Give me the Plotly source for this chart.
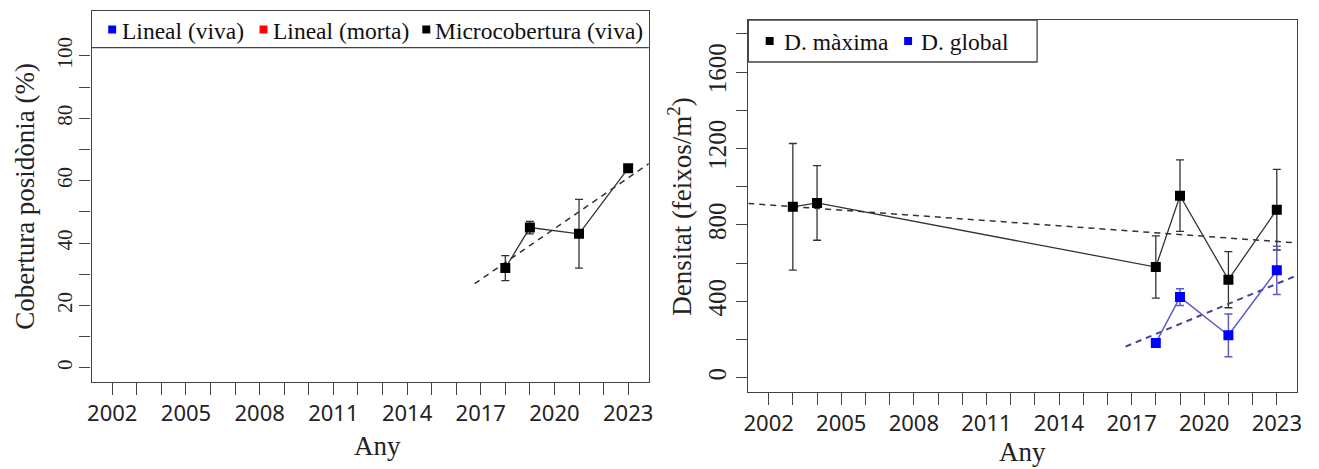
import numpy as np
import plotly.graph_objects as go

# ---- data -------------------------------------------------------------
years_cov = [2018, 2019, 2021, 2023]
cov_micro = [32, 45, 43, 64]
cov_micro_err = [4, 2, 11, 0]

years_dmax = [2003, 2004, 2018, 2019, 2021, 2023]
dens_max = [895, 915, 580, 953, 514, 880]
dens_max_err = [331, 195, 163, 187, 147, 211]

years_dglob = [2018, 2019, 2021, 2023]
dens_glob = [183, 423, 223, 563]
dens_glob_err = [0, 44, 112, 126]

cov_legend = ["Lineal (viva)", "Lineal (morta)", "Microcobertura (viva)"]
dens_legend = ["D. màxima", "D. global"]

year_ticks = list(range(2002, 2024))
labelled_years = [2002, 2005, 2008, 2011, 2014, 2017, 2020, 2023]

cov_ticks = list(range(0, 101, 10))
cov_labelled = [0, 20, 40, 60, 80, 100]
dens_ticks = list(range(0, 1801, 200))
dens_labelled = [0, 400, 800, 1200, 1600]

# ---- styling ----------------------------------------------------------
W, H = 1319, 469
AX = "#444444"
SERIF = "Liberation Serif"
SANS = "Noto Sans"
X_RANGE = [2001.16, 2023.84]
COV_RANGE = [-4.4, 114.4]
DENS_RANGE = [-72, 1872]
LOCAL_TREND_START = 2016.75


def px_x(p):
    return p / W


def px_y(p):
    return 1 - p / H


def fit_line(xs, ys, x0, x1):
    slope, icpt = np.polyfit(xs, ys, 1)
    return [x0, x1], [icpt + slope * x0, icpt + slope * x1]


fig = go.Figure()

# left panel: cover
tx, ty = fit_line(years_cov, cov_micro, LOCAL_TREND_START, X_RANGE[1])
fig.add_trace(go.Scatter(x=tx, y=ty, mode="lines", xaxis="x", yaxis="y",
                         line=dict(color="#333333", width=1.5, dash="6px,5px"),
                         showlegend=False, hoverinfo="skip"))
fig.add_trace(go.Scatter(
    x=years_cov, y=cov_micro, mode="lines+markers", xaxis="x", yaxis="y",
    name=cov_legend[2],
    line=dict(color="#333333", width=1.3),
    marker=dict(symbol="square", size=10, color="#000000"),
    error_y=dict(type="data", array=cov_micro_err, visible=True,
                 color="#333333", thickness=1.3, width=4),
    showlegend=False))

# right panel: density
tx, ty = fit_line(years_dmax, dens_max, X_RANGE[0], X_RANGE[1])
fig.add_trace(go.Scatter(x=tx, y=ty, mode="lines", xaxis="x2", yaxis="y2",
                         line=dict(color="#333333", width=1.5, dash="6px,5px"),
                         showlegend=False, hoverinfo="skip"))
fig.add_trace(go.Scatter(
    x=years_dmax, y=dens_max, mode="lines+markers", xaxis="x2", yaxis="y2",
    name=dens_legend[0],
    line=dict(color="#333333", width=1.3),
    marker=dict(symbol="square", size=10, color="#000000"),
    error_y=dict(type="data", array=dens_max_err, visible=True,
                 color="#333333", thickness=1.3, width=4),
    showlegend=False))
tx, ty = fit_line(years_dglob, dens_glob, LOCAL_TREND_START, X_RANGE[1])
fig.add_trace(go.Scatter(x=tx, y=ty, mode="lines", xaxis="x2", yaxis="y2",
                         line=dict(color="#45458c", width=2, dash="6px,5px"),
                         showlegend=False, hoverinfo="skip"))
fig.add_trace(go.Scatter(
    x=years_dglob, y=dens_glob, mode="lines+markers", xaxis="x2", yaxis="y2",
    name=dens_legend[1],
    line=dict(color="#5a5ac8", width=1.5),
    marker=dict(symbol="square", size=10, color="#0000ff"),
    error_y=dict(type="data", array=dens_glob_err, visible=True,
                 color="#5a5ac8", thickness=1.5, width=4),
    showlegend=False))

# invisible trace so the free label axis of the cover panel is drawn
fig.add_trace(go.Scatter(x=[None], y=[None], xaxis="x", yaxis="y3",
                         showlegend=False, hoverinfo="skip"))

tick_style = dict(ticks="outside", tickwidth=1.3, tickcolor=AX)
common_x = dict(range=X_RANGE, tickvals=labelled_years,
                ticktext=[str(y) for y in labelled_years],
                ticklen=12, minor=dict(tickvals=year_ticks, ticklen=12, **tick_style),
                showline=True, mirror=True, linecolor=AX, linewidth=1.3,
                showgrid=False, zeroline=False,
                tickfont=dict(family=SANS, size=22, color="#222222"), **tick_style)
common_y = dict(ticklen=11, showline=True, mirror=True, linecolor=AX, linewidth=1.3,
                showgrid=False, zeroline=False, tickangle=-90, **tick_style)

cov_domain = [px_y(381.7), px_y(11)]

fig.update_layout(
    width=W, height=H, margin=dict(l=0, r=0, t=0, b=0),
    paper_bgcolor="white", plot_bgcolor="white", showlegend=False,
    xaxis=dict(domain=[px_x(87.3), px_x(648.7)], anchor="y", **common_x),
    yaxis=dict(domain=cov_domain, anchor="x", range=COV_RANGE,
               tickvals=cov_ticks, showticklabels=False, **common_y),
    # label-only axis for the cover panel, set a little further out
    yaxis3=dict(domain=cov_domain, anchor="free", overlaying="y",
                position=px_x(72), range=COV_RANGE, side="left",
                tickvals=cov_labelled, ticktext=[str(v) for v in cov_labelled],
                ticks="", showline=False, showgrid=False, zeroline=False,
                tickangle=-90,
                tickfont=dict(family=SERIF, size=21, color="#222222")),
    xaxis2=dict(domain=[px_x(749), px_x(1302)], anchor="y2", **common_x),
    yaxis2=dict(domain=[px_y(391.7), px_y(20)], anchor="x2",
                range=DENS_RANGE, tickvals=dens_labelled,
                ticktext=[str(v) for v in dens_labelled],
                minor=dict(tickvals=dens_ticks, ticklen=11, **tick_style),
                tickfont=dict(family=SERIF, size=25, color="#222222"),
                **common_y),
)

shapes = []
annotations = []

# legend strip across the top of the cover panel
shapes.append(dict(type="line", xref="paper", yref="paper",
                   x0=px_x(87.3), x1=px_x(648.7), y0=px_y(47.7), y1=px_y(47.7),
                   line=dict(color=AX, width=1.3)))
# legend box of the density panel
shapes.append(dict(type="rect", xref="paper", yref="paper",
                   x0=px_x(749), x1=px_x(1040), y0=px_y(62), y1=px_y(20),
                   line=dict(color=AX, width=1.3), fillcolor="white", layer="below"))


def legend_item(sq_x, sq_y, text_x, text, color, size=23.5):
    half = 4
    shapes.append(dict(type="rect", xref="paper", yref="paper",
                       x0=px_x(sq_x - half), x1=px_x(sq_x + half),
                       y0=px_y(sq_y + half), y1=px_y(sq_y - half),
                       line=dict(width=0), fillcolor=color))
    annotations.append(dict(xref="paper", yref="paper", x=px_x(text_x), y=px_y(sq_y + 1),
                            xanchor="left", yanchor="middle", showarrow=False,
                            text=text, font=dict(family=SERIF, size=size, color="#111111")))


legend_item(108, 29.5, 116, cov_legend[0], "#0000ff")
legend_item(260.5, 29.5, 268, cov_legend[1], "#ff0000")
legend_item(424.5, 29.5, 431, cov_legend[2], "#000000")
legend_item(770.5, 41, 783, dens_legend[0], "#000000")
legend_item(910, 41, 921, dens_legend[1], "#0000ff")

# axis titles
title_font = dict(family=SERIF, size=27, color="#222222")
annotations += [
    dict(xref="paper", yref="paper", x=px_x(20), y=px_y(196), textangle=-90,
         xanchor="center", yanchor="middle", showarrow=False,
         text="Cobertura posidònia (%)", font=title_font),
    dict(xref="paper", yref="paper", x=px_x(680), y=px_y(206), textangle=-90,
         xanchor="center", yanchor="middle", showarrow=False,
         text="Densitat (feixos/m<sup>2</sup>)", font=title_font),
    dict(xref="paper", yref="paper", x=px_x(375), y=px_y(446),
         xanchor="center", yanchor="middle", showarrow=False,
         text="Any", font=title_font),
    dict(xref="paper", yref="paper", x=px_x(1025.5), y=px_y(452),
         xanchor="center", yanchor="middle", showarrow=False,
         text="Any", font=title_font),
]

fig.update_layout(shapes=shapes, annotations=annotations)
fig.write_html("out.html")
